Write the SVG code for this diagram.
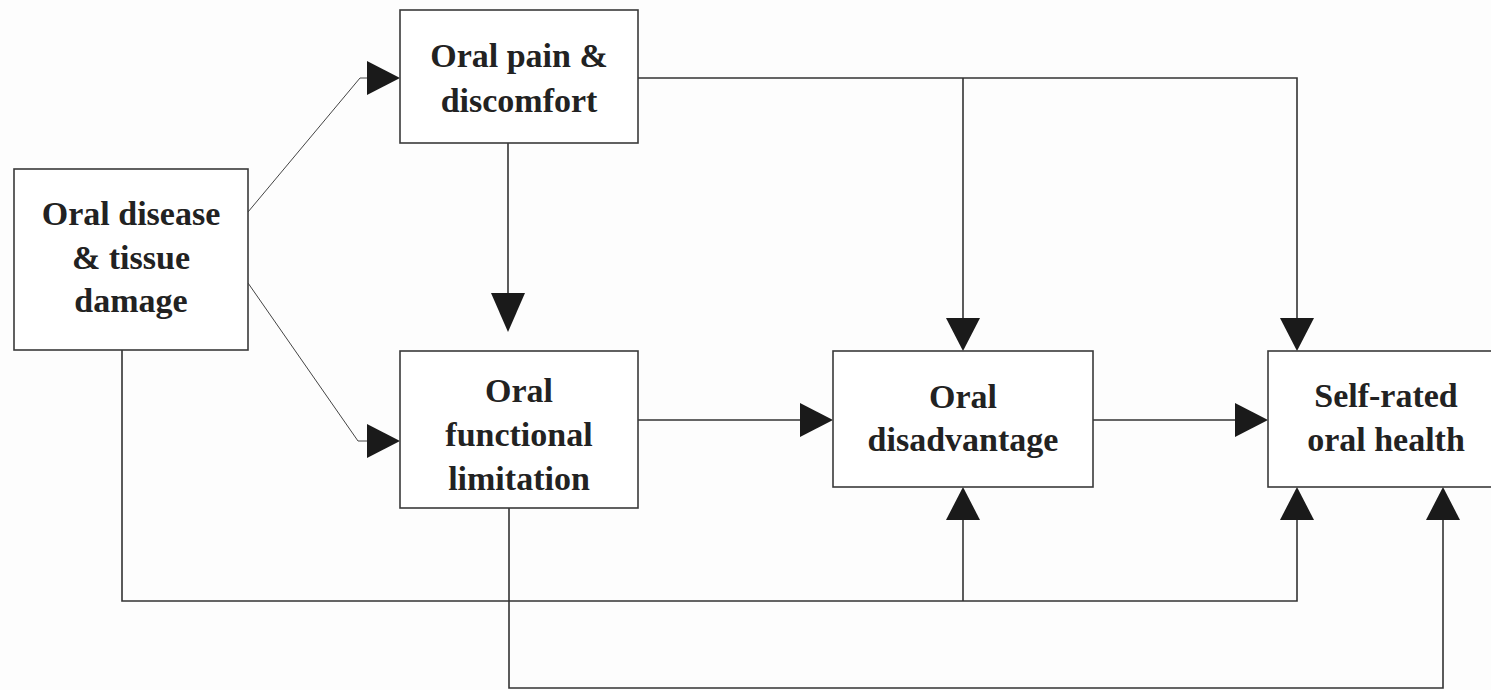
<svg xmlns="http://www.w3.org/2000/svg" width="1491" height="690" viewBox="0 0 1491 690">
<style>
.box{fill:#fff;stroke:#3a3a3a;stroke-width:1.6}
.t{font-family:"Liberation Serif","Times New Roman",serif;font-weight:bold;font-size:34px;fill:#222;text-anchor:middle}
.ln{fill:none;stroke:#333;stroke-width:1.6}
.thin{fill:none;stroke:#444;stroke-width:1}
.ah{fill:#1a1a1a}
</style>
<rect width="1491" height="690" fill="#fdfdfd"/>
<g id="connectors">
<polyline class="thin" points="248,212 360,78 368,78"/>
<polygon class="ah" points="400,78 367,61 367,95"/>
<polyline class="thin" points="248,283 358,441 368,441"/>
<polygon class="ah" points="400,441 367,424 367,458"/>
<line class="ln" x1="508" y1="143" x2="508" y2="295"/>
<polygon class="ah" points="508,332 491,293 525,293"/>
<line class="ln" x1="638" y1="420" x2="800" y2="420"/>
<polygon class="ah" points="833,420 800,403 800,437"/>
<line class="ln" x1="1093" y1="420" x2="1236" y2="420"/>
<polygon class="ah" points="1268,420 1235,403 1235,437"/>
<polyline class="ln" points="638,78 1297,78 1297,320"/>
<line class="ln" x1="963" y1="78" x2="963" y2="320"/>
<polygon class="ah" points="963,351 946,318 980,318"/>
<polygon class="ah" points="1297,351 1280,318 1314,318"/>
<polyline class="ln" points="122,350 122,601 1297,601 1297,518"/>
<line class="ln" x1="963" y1="601" x2="963" y2="518"/>
<polygon class="ah" points="963,487 946,520 980,520"/>
<polygon class="ah" points="1297,487 1280,520 1314,520"/>
<polyline class="ln" points="509,508 509,688 1443,688 1443,518"/>
<polygon class="ah" points="1443,487 1426,520 1460,520"/>
</g>
<g id="node-disease">
<rect class="box" x="14" y="169" width="234" height="181"/>
<text class="t" x="131" y="225">Oral disease</text>
<text class="t" x="131" y="269">&amp; tissue</text>
<text class="t" x="131" y="312">damage</text>
</g>
<g id="node-pain">
<rect class="box" x="400" y="10" width="238" height="133"/>
<text class="t" x="519" y="67">Oral pain &amp;</text>
<text class="t" x="519" y="112">discomfort</text>
</g>
<g id="node-functional">
<rect class="box" x="400" y="351" width="238" height="157"/>
<text class="t" x="519" y="402">Oral</text>
<text class="t" x="519" y="446">functional</text>
<text class="t" x="519" y="490">limitation</text>
</g>
<g id="node-disadvantage">
<rect class="box" x="833" y="351" width="260" height="136"/>
<text class="t" x="963" y="408">Oral</text>
<text class="t" x="963" y="451">disadvantage</text>
</g>
<g id="node-selfrated">
<rect class="box" x="1268" y="351" width="240" height="136"/>
<text class="t" x="1386" y="407">Self-rated</text>
<text class="t" x="1386" y="451">oral health</text>
</g>
</svg>
